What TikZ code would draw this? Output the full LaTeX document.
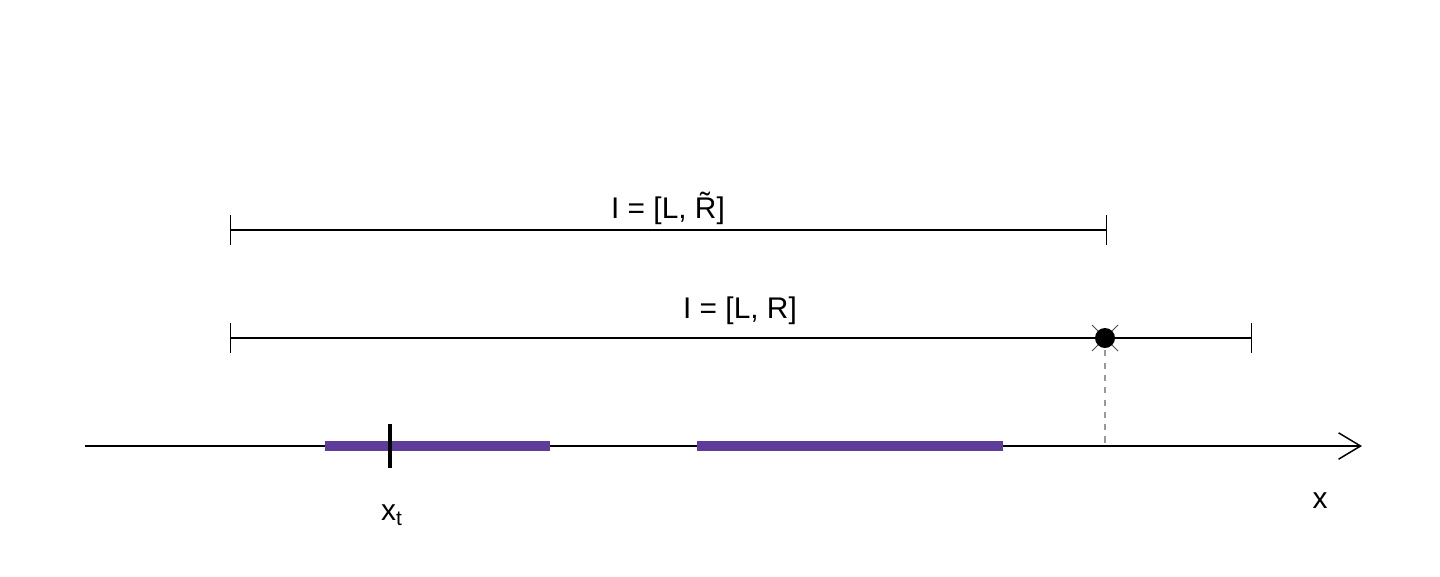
\documentclass[tikz,border=0pt]{standalone}
\usepackage{fontspec}
\setmainfont{Liberation Sans}
\usetikzlibrary{arrows.meta}

\definecolor{segpurple}{RGB}{94,60,153}

\tikzset{
    interval/.style={line width=0.6pt},
    endtick/.style={line width=0.5pt},
    lbl/.style={font=\fontsize{17}{20}\selectfont, inner sep=0pt},
    axlbl/.style={font=\fontsize{17}{20}\selectfont, inner sep=0pt},
}

\begin{document}
\begin{tikzpicture}[x=0.02cm, y=-0.02cm]

    \useasboundingbox (0,0) rectangle (1440,576);

    % axis
    \coordinate (axstart) at (85,446);
    \coordinate (axend) at (1362,446);
    \draw[line width=0.85pt, -{Straight Barb[length=12.5pt, width=15pt, line width=0.85pt]}] (axstart) -- (axend);
    \node[axlbl] (xlab) at (1320,501) {x};

    % purple pieces
    \draw[segpurple, line width=5.7pt] (325,446) -- (550,446);
    \draw[segpurple, line width=5.7pt] (697,446) -- (1003,446);

    % the point x_t
    \draw[line width=2pt] (390,424) -- (390,468);
    \node[axlbl] (xt) at (392,515) {x\textsubscript{t}};

    % I = [L, R]
    \coordinate (L1) at (230,338);
    \coordinate (R1) at (1251,338);
    \draw[interval] (L1) -- (R1);
    \draw[endtick] (230,323) -- (230,353);
    \draw[endtick] (1251,323) -- (1251,353);
    \node[lbl] (lab1) at (740,311) {I = [L, R]};

    % I = [L, R~]
    \coordinate (L2) at (230,230);
    \coordinate (R2) at (1106,230);
    \draw[interval] (L2) -- (R2);
    \draw[endtick] (230,215) -- (230,245);
    \draw[endtick] (1106,215) -- (1106,245);
    \node[lbl] (lab2) at (668,208) {I = [L, \~{R}]};

    % cut point
    \coordinate (cut) at (1105,338);
    \coordinate (cutfoot) at (1105,446);
    \draw[gray!80, line width=0.6pt, dash pattern=on 3.5pt off 3.5pt] (cut) -- (cutfoot);
    \draw[black!70, line width=0.5pt] (1092,325) -- (1118,351);
    \draw[black!70, line width=0.5pt] (1092,351) -- (1118,325);
    \fill (cut) circle (10);

\end{tikzpicture}
\end{document}
